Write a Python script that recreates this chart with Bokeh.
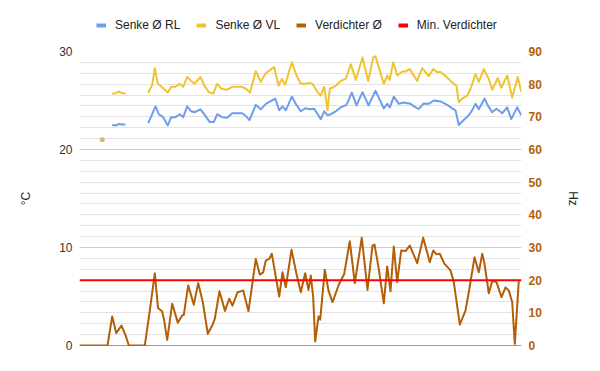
from bokeh.plotting import figure
from bokeh.layouts import column
from bokeh.models import (Range1d, LinearAxis, FixedTicker, Grid, Legend, LegendItem, Span)
from bokeh.embed import file_html
from bokeh.resources import INLINE

NAN = float("nan")

# ---- data (x = sample position, unitless time) ----
t_rl = [101.7, NAN,
        111.7, 115, 118.5, 121.5, 125, NAN,
        147.7, 151.7, 155, 158.3, 162.7, 167.3, 170.7, 175, 179.3, 182.7, 186.7, 190.7,
        194, 200, 205, 209.3, 213.3, 216.7, 221.7, 226.7, 231.7, 241.7, 245, 249,
        255.3, 260.3, 265.3, 274.7, 278.7, 282, 285.3, 291.3, 295.3, 300.3, 304.7,
        309.3, 313.7, 320.3, 323.7, 327, 330.3, 335.3, 340.3, 346, 351.3, 356, 362,
        368, 375, 383.3, 386.7, 389.3, 393.3, 398.3, 403.3, 410, 415, 418.3, 423.3,
        428.3, 433.3, 440, 446.7, 451.7, 455, 458.3, 462.7, 468.3, 471.7, 475, 478.3,
        484, 487.3, 491.7, 496, 501.7, 506.7, 510.7, 516.7, 520.7]
senke_rl = [21.0, NAN,
            22.5, 22.45, 22.6, 22.55, 22.55, NAN,
            22.7, 23.6, 24.4, 23.6, 23.3, 22.45, 23.3, 23.3, 23.6, 23.3, 24.4, 23.9,
            23.8, 24.1, 23.4, 22.8, 22.8, 23.6, 23.3, 23.25, 23.7, 23.7, 23.45, 23.0,
            24.55, 24.1, 24.66, 25.2, 24.0, 24.4, 24.0, 25.4, 24.66, 23.9, 24.2,
            24.1, 24.15, 23.1, 23.9, 23.5, 23.6, 23.9, 24.3, 24.55, 25.8, 24.5, 25.85,
            24.5, 26.0, 24.2, 24.66, 24.3, 25.4, 24.66, 24.8, 24.66, 24.3, 24.15, 24.7,
            24.66, 25.0, 24.9, 24.55, 24.2, 24.0, 22.5, 22.96, 23.5, 24.0, 24.66, 24.1,
            25.2, 24.5, 23.8, 24.15, 23.7, 24.3, 23.1, 24.3, 23.5]

t_vl = [101.7, NAN,
        111.7, 115, 118.5, 121.5, 125, NAN,
        147.7, 151.7, 154.3, 157.3, 160, 163.3, 167.3, 170.7, 175, 179.3, 182.7, 186.7,
        190.7, 194, 200, 204, 208.3, 212.7, 216.7, 220.7, 226.7, 231.7, 241.7, 246.7,
        249.5, 255.3, 260.3, 265.3, 273.7, 278, 281.3, 284.7, 291.3, 296, 300.3, 305.3,
        309.3, 312, 317, 320.3, 323.7, 327, 329.3, 335.3, 340.3, 345.3, 350.3, 355.3,
        362, 367.7, 372.7, 375, 383.3, 386.7, 389.3, 392.7, 396.7, 401.7, 405, 409.3,
        416.7, 421.7, 428.3, 432.7, 436.7, 440, 445, 450, 453.3, 456, 458.3, 461.7,
        466.7, 470, 475, 478.3, 483.3, 488.3, 491.7, 497.3, 500.7, 506.7, 511.7, 517.3,
        520.7]
senke_vl = [21.0, NAN,
            25.7, 25.75, 25.9, 25.75, 25.75, NAN,
            25.76, 26.6, 28.3, 26.7, 26.5, 26.2, 25.8, 26.4, 26.4, 26.7, 26.4, 27.4,
            27.0, 26.7, 27.4, 26.5, 25.85, 25.7, 26.7, 26.2, 26.1, 26.4, 26.4, 26.1,
            25.8, 28.0, 26.9, 27.8, 28.4, 26.5, 27.2, 26.6, 28.9, 27.55, 26.7, 26.7,
            26.8, 26.7, 25.85, 25.5, 26.4, 24.0, 26.2, 26.5, 27.0, 27.2, 28.7, 27.1,
            29.4, 27.0, 29.4, 29.5, 26.7, 27.55, 27.1, 28.9, 27.55, 27.96, 27.96, 28.2,
            27.0, 28.3, 27.5, 28.2, 27.9, 27.9, 27.5, 27.0, 26.7, 26.5, 24.8, 25.2,
            25.5, 26.2, 27.7, 26.9, 28.2, 27.2, 26.1, 27.3, 26.3, 27.55, 25.3, 27.4,
            25.9]

t_verd = [79, 107, 111.7, 115.7, 121, 125, 128.3, 144.3, 149.3, 154.3, 157.5, 161.5,
          163.5, 166.7, 171.7, 177.3, 181.7, 183.3, 187.7, 193.3, 197.7, 202.3, 207.3,
          211.7, 214.3, 219, 224.5, 228.7, 232, 237, 242.7, 248, 255.3, 259.3, 262.7,
          265.3, 268.7, 271.3, 278.7, 282, 285.3, 291, 296, 300.3, 304.7, 308, 310.3,
          312.7, 314.7, 318, 319.7, 324.3, 328, 332, 338.7, 343.7, 349.3, 354.3, 361.3,
          367, 372, 374, 378, 383.3, 386.7, 390, 393.3, 396.7, 400.7, 405, 409.3, 416.7,
          422.7, 429.3, 432.7, 436, 439.3, 444, 450, 453.3, 459.3, 465, 468.3, 474,
          478.3, 481.7, 484, 488.3, 491.7, 496, 501, 505, 508.3, 511.7, 514.3, 518.3]
verdichter_hz = [0, 0, 8.9, 3.8, 6.1, 3.2, 0, 0, 10.7, 22.1, 11.5, 10.5,
                 8.0, 1.7, 12.8, 7.0, 9.2, 9.4, 18.4, 12.5, 19.1, 13.3, 3.6,
                 6.1, 8.2, 16.6, 10.6, 14.3, 12.2, 16.3, 16.8, 10.5, 26.5, 21.7, 22.4,
                 26.0, 26.5, 28.1, 15.0, 22.4, 17.8, 29.3, 21.9, 16.3, 22.1, 17.0, 21.4,
                 14.8, 1.2, 8.9, 7.9, 23.2, 16.8, 13.3, 18.9, 21.9, 31.9, 19.1, 33.0,
                 17.0, 30.6, 30.9, 24.0, 12.9, 24.2, 16.6, 30.3, 19.4, 29.1, 28.9, 30.6, 25.2,
                 33.0, 25.5, 29.1, 27.9, 28.1, 25.0, 23.0, 19.4, 6.4, 10.7, 16.3, 27.0,
                 22.4, 28.1, 25.0, 16.0, 19.7, 19.4, 14.8, 17.8, 16.8, 13.3, 0.5, 19.9]

min_verdichter_hz = 20

left_ticks = [0, 10, 20, 30]
right_ticks = [0, 10, 20, 30, 40, 50, 60, 70, 80, 90]
legend_labels = ["Senke Ø RL", "Senke Ø VL", "Verdichter Ø", "Min. Verdichter"]

C_RL = "#6d9eeb"
C_VL = "#f1c232"
C_VERD = "#b45f06"
C_MIN = "#ff0000"
FONT = "Liberation Sans"

# ---------------- legend strip ----------------
lg = figure(width=600, height=40, output_backend="svg", toolbar_location=None,
            x_range=Range1d(0, 1), y_range=Range1d(0, 1),
            min_border_left=79, min_border_right=79, min_border_top=0, min_border_bottom=0)
lg.outline_line_color = None
lg.axis.visible = False
lg.grid.visible = False
lg.background_fill_alpha = 0
lg.border_fill_alpha = 0
# proxy renderers (outside the visible range) that only supply legend swatches
proxies = []
for c in [C_RL, C_VL, C_VERD, C_MIN]:
    proxies.append(lg.line([5, 6], [5, 6], line_color=c, line_width=4))
items = [LegendItem(label=l, renderers=[r]) for l, r in zip(legend_labels, proxies)]
legend = Legend(items=items, orientation="horizontal", location=(17, 8),
                label_text_font=FONT, label_text_font_size="12px", label_text_color="#222222",
                glyph_width=10, glyph_height=14, label_height=14, label_width=10,
                label_standoff=9, spacing=16,
                padding=0, margin=0, border_line_color=None, background_fill_alpha=0)
lg.add_layout(legend, "center")

# ---------------- main chart ----------------
p = figure(width=600, height=331, output_backend="svg", toolbar_location=None,
           x_range=Range1d(79, 521), y_range=Range1d(0, 30),
           min_border_left=79, min_border_right=79, min_border_top=11, min_border_bottom=26)
p.outline_line_color = None
p.background_fill_color = "white"
p.border_fill_color = "white"
p.extra_y_ranges = {"hz": Range1d(0, 90)}

p.xgrid.visible = False
p.ygrid[0].ticker = FixedTicker(ticks=[i * 10 / 9 for i in range(28)])
p.ygrid[0].grid_line_color = "#e3e3e3"
p.ygrid[0].grid_line_width = 1
p.add_layout(Grid(dimension=1, ticker=FixedTicker(ticks=left_ticks), grid_line_color="#cccccc"))

p.xaxis.visible = False

la = p.yaxis[0]
la.ticker = FixedTicker(ticks=left_ticks)
la.axis_line_color = None
la.major_tick_line_color = None
la.minor_tick_line_color = None
la.major_tick_out = 0
la.minor_tick_out = 0
la.major_label_text_font = FONT
la.major_label_text_font_size = "12px"
la.major_label_text_color = "#333333"
la.major_label_standoff = 7
la.axis_label = "°C"
la.axis_label_text_font = FONT
la.axis_label_text_font_style = "normal"
la.axis_label_text_font_size = "12px"
la.axis_label_text_color = "#222222"
la.axis_label_standoff = 23

ra = LinearAxis(y_range_name="hz", ticker=FixedTicker(ticks=right_ticks))
ra.axis_line_color = None
ra.major_tick_line_color = None
ra.minor_tick_line_color = None
ra.major_tick_out = 0
ra.minor_tick_out = 0
ra.major_label_text_font = FONT
ra.major_label_text_font_size = "12px"
ra.major_label_text_font_style = "bold"
ra.major_label_text_color = C_VERD
ra.major_label_standoff = 7
ra.axis_label = "Hz"
ra.axis_label_text_font = FONT
ra.axis_label_text_font_style = "normal"
ra.axis_label_text_font_size = "12px"
ra.axis_label_text_color = "#222222"
ra.axis_label_standoff = 21
p.add_layout(ra, "right")

p.add_layout(Span(location=0, dimension="width", line_color="#333333", line_width=1))

p.line(t_rl, senke_rl, line_color=C_RL, line_width=2, line_join="round")
p.line(t_vl, senke_vl, line_color=C_VL, line_width=2, line_join="round")
p.scatter([t_rl[0]], [senke_rl[0]], size=4, color=C_RL, alpha=0.8)
p.scatter([t_vl[0]], [senke_vl[0]], size=4, color=C_VL, alpha=0.7)
p.line(t_verd, verdichter_hz, y_range_name="hz", line_color=C_VERD, line_width=2,
       line_join="round")
p.add_layout(Span(location=min_verdichter_hz, dimension="width", y_range_name="hz",
                  line_color=C_MIN, line_width=2))

layout = column(lg, p, spacing=0)
open("out.html", "w").write(file_html(layout, INLINE))
